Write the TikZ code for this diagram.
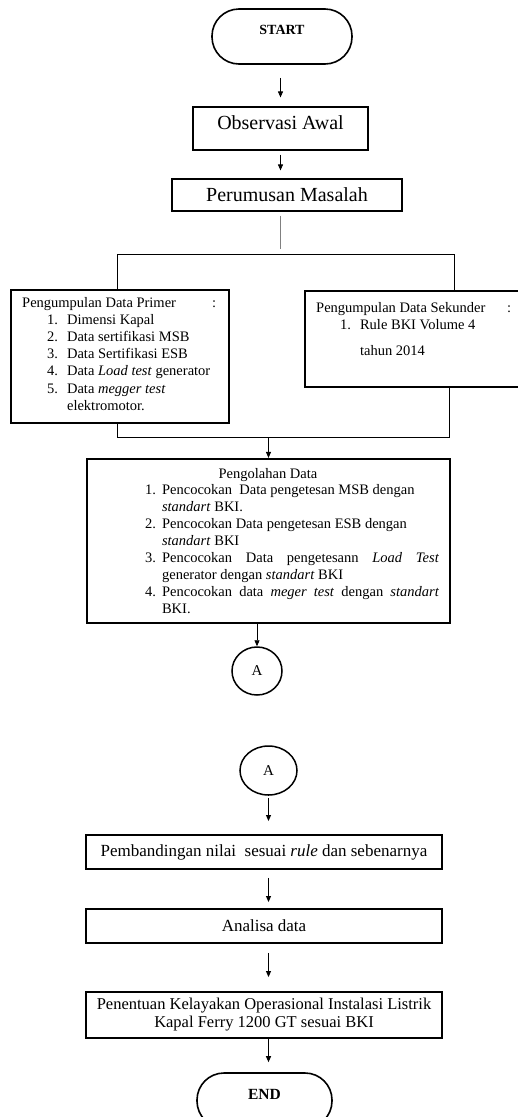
\documentclass[tikz,border=0pt]{standalone}
\usepackage{fontspec}
\setmainfont{Liberation Serif}
\usetikzlibrary{arrows.meta,shapes.geometric,calc}
\newcommand\fsList{\fontsize{14.5}{17.2}\selectfont}
\begin{document}
\begin{tikzpicture}[x=1pt,y=-1pt,
  box/.style={draw,line width=1.2pt,rectangle,inner sep=0pt,align=center},
  thickbox/.style={draw,line width=1.9pt,rectangle,inner sep=0pt},
  term/.style={draw,line width=1.6pt,rounded corners=27pt,inner sep=0pt},
  conn/.style={draw,ellipse,line width=1.5pt,inner sep=0pt,font=\fontsize{15}{17}\selectfont},
  line/.style={line width=0.9pt},
  arr/.style={line width=0.9pt,-{Triangle[length=6pt,width=5pt]}},
  lbl/.style={inner sep=0pt}]
\useasboundingbox (0,0) rectangle (518,1117);

% START
\node[term,minimum width=140pt,minimum height=55pt] (start) at (282,36.5) {};
\node[lbl,font=\fontsize{14}{16}\selectfont\bfseries] (starttxt) at (282,30) {START};

% Observasi / Perumusan
\node[box,minimum width=175pt,minimum height=43pt,font=\fontsize{20}{24}\selectfont] (obs) at (280.5,128.5) {\raisebox{11pt}{Observasi Awal}};
\node[box,minimum width=230pt,minimum height=32pt,font=\fontsize{20}{24}\selectfont] (rum) at (287,195) {Perumusan Masalah};

\draw[arr] ($(start.south -| obs.north)+(0,13)$) -- ($(obs.north)+(0,-9)$);
\draw[arr] ($(obs.south)+(0,4)$) -- ($(obs.south |- rum.north)+(0,-8)$);
\draw[line,gray] ($(rum.south -| obs.south)+(0,4)$) -- ($(rum.south -| obs.south)+(0,37)$);

% data boxes
\node[thickbox,minimum width=218pt,minimum height=133pt] (prim) at (120,356.5) {};
\node[thickbox,minimum width=217pt,minimum height=96pt] (sek) at (413.5,339) {};

\node[lbl,anchor=base west,font=\fsList] (primtxt) at (22,307) {%
\begin{tabular}[t]{@{\hspace{25pt}}r@{\hspace{9pt}}l@{}}
\multicolumn{2}{@{}l@{}}{\makebox[194pt][l]{Pengumpulan Data Primer\hfill:}}\\
1.& Dimensi Kapal\\
2.& Data sertifikasi MSB\\
3.& Data Sertifikasi ESB\\
4.& Data \textit{Load test} generator\\
5.& Data \textit{megger test}\\
  & elektromotor.
\end{tabular}};

\node[lbl,anchor=base west,font=\fsList] (sektxt) at (316,312.5) {%
\begin{tabular}[t]{@{\hspace{24pt}}r@{\hspace{9pt}}l@{}}
\multicolumn{2}{@{}l@{}}{\makebox[195pt][l]{Pengumpulan Data Sekunder\hfill:}}\\
1.& Rule BKI Volume 4\\[9pt]
  & tahun 2014
\end{tabular}};

% brackets
\coordinate (tl) at (117,254);
\coordinate (tr) at (454,254);
\coordinate (bl) at (117,437);
\coordinate (br) at (449,437);
\draw[line] (tl |- prim.north) -- (tl) -- (tr) -- (tr |- sek.north);
\draw[line] (bl |- prim.south) -- (bl) -- (br) -- (br |- sek.south);

% Pengolahan
\node[thickbox,line width=2.2pt,minimum width=363pt,minimum height=164pt] (olah) at (268.5,541) {};
\draw[arr] (olah.north |- bl) -- (olah.north);
\node[lbl,anchor=base,font=\fsList] (olahtitle) at (268,478.5) {Pengolahan Data};
\node[lbl,anchor=base west,font=\fontsize{14.5}{17}\selectfont] (olahtxt) at (145,494.5) {%
\begin{tabular}[t]{@{}r@{\hspace{6pt}}l@{}}
1.& Pencocokan\ \ Data pengetesan MSB dengan\\
  & \textit{standart} BKI.\\
2.& Pencocokan Data pengetesan ESB dengan\\
  & \textit{standart} BKI\\
3.& \makebox[277pt][s]{Pencocokan Data pengetesann \textit{Load Test}}\\
  & generator dengan \textit{standart} BKI\\
4.& \makebox[277pt][s]{Pencocokan data \textit{meger test} dengan \textit{standart}}\\
  & BKI.
\end{tabular}};

% connectors A
\node[conn,minimum width=50pt,minimum height=48pt] (a1) at (257,671) {A};
\draw[arr] (a1.north |- olah.south) -- (a1.north);
\node[conn,minimum width=57pt,minimum height=49pt] (a2) at (268.5,770.5) {A};

% bottom boxes
\node[thickbox,minimum width=356pt,minimum height=34pt,font=\fontsize{17}{20}\selectfont] (pemb) at (264,852) {Pembandingan nilai\ \ sesuai \textit{rule} dan sebenarnya};
\node[thickbox,minimum width=356pt,minimum height=34pt,font=\fontsize{17}{20}\selectfont] (ana) at (264,926) {Analisa data};
\node[thickbox,minimum width=356pt,minimum height=46pt,align=center,font=\fontsize{16.5}{18}\selectfont] (pen) at (264,1015) {Penentuan Kelayakan Operasional Instalasi Listrik\\Kapal Ferry 1200 GT sesuai BKI};

\node[term,minimum width=135pt,minimum height=55pt] (end) at (264.5,1100.5) {};
\node[lbl,font=\fontsize{15.5}{18}\selectfont\bfseries] (endtxt) at (264.5,1094) {END};

\draw[arr] ($(a2.south)+(0,2)$) -- ($(a2.south |- pemb.north)+(0,-13)$);
\draw[arr] ($(pemb.south -| a2.south)+(0,8)$) -- ($(ana.north -| a2.south)+(0,-6)$);
\draw[arr] ($(ana.south -| a2.south)+(0,9)$) -- ($(pen.north -| a2.south)+(0,-14)$);
\draw[arr] (pen.south -| a2.south) -- ($(end.north -| a2.south)+(0,-10)$);
\end{tikzpicture}
\end{document}
